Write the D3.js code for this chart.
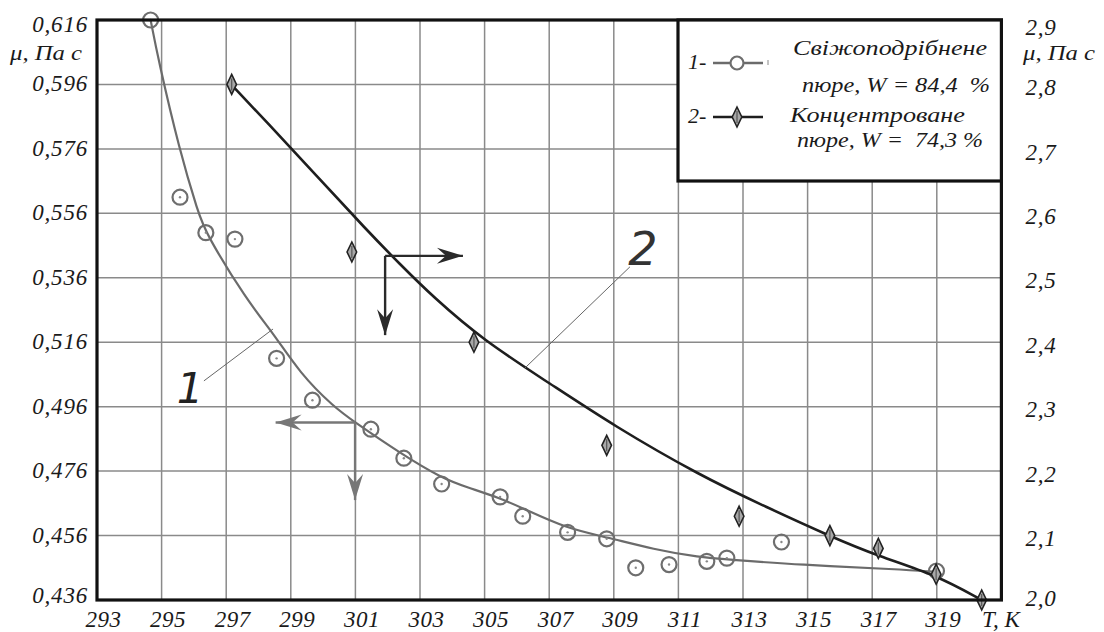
<!DOCTYPE html>
<html>
<head>
<meta charset="utf-8">
<script src="https://cdn.jsdelivr.net/npm/d3@7"></script>
<style>
  body { margin: 0; background: #fff; }
  svg { display: block; }
  text { font-family: "Liberation Serif", "Times New Roman", serif; font-style: italic; fill: #1a1a1a; }
</style>
</head>
<body>
<svg id="chart"></svg>
<script>
// measured points, curve 1 (fresh puree, left axis)
const temp1 = [294.66, 295.57, 296.37, 297.27, 298.56, 299.67, 301.48, 302.50, 303.67, 305.48, 306.18, 307.57, 308.78, 309.68, 310.71, 311.88, 312.50, 314.19, 318.99]
const mu1 = [0.616, 0.561, 0.550, 0.548, 0.511, 0.498, 0.489, 0.480, 0.472, 0.468, 0.462, 0.457, 0.455, 0.446, 0.447, 0.448, 0.449, 0.454, 0.445]

// measured points, curve 2 (concentrated puree, right axis)
const temp2 = [297.17, 300.89, 304.67, 308.78, 312.88, 315.69, 317.19, 318.98, 320.39]
const mu2 = [2.80, 2.54, 2.40, 2.24, 2.13, 2.10, 2.08, 2.04, 2.00]

// fitted curves
const fitT1 = [294.66, 294.90, 295.55, 296.14, 296.37, 297.63, 298.46, 299.28, 300.32, 300.99, 302.38, 303.67, 304.45, 305.48, 306.18, 307.54, 308.78, 310.24, 311.67, 312.50, 314.76, 317.86, 318.89]
const fitMu1 = [0.616, 0.6036, 0.5757, 0.556, 0.5498, 0.5291, 0.5188, 0.5064, 0.4960, 0.4911, 0.4816, 0.4738, 0.4710, 0.4676, 0.4645, 0.4582, 0.4555, 0.4517, 0.4492, 0.4486, 0.4469, 0.4455, 0.4448]
const fitT2 = [297.17, 298.25, 299.80, 301.35, 302.38, 303.41, 304.96, 307.02, 308.98, 311.67, 313.73, 315.69, 317.19, 318.98, 320.39]
const fitMu2 = [2.799, 2.742, 2.658, 2.574, 2.521, 2.470, 2.403, 2.336, 2.271, 2.193, 2.144, 2.099, 2.068, 2.039, 2.000]

// tick labels
const xTicks = [293, 295, 297, 299, 301, 303, 305, 307, 309, 311, 313, 315, 317, 319]
const leftTicks = [0.616, 0.596, 0.576, 0.556, 0.536, 0.516, 0.496, 0.476, 0.456, 0.436]
const rightTicks = [2.9, 2.8, 2.7, 2.6, 2.5, 2.4, 2.3, 2.2, 2.1, 2.0]

// annotation arrows (axis directions) and curve numbers
const arrow1 = { t: 300.99, mu: 0.4911, tLeft: 298.53, muDown: 0.4670 }
const arrow2 = { t: 301.92, mu: 2.534, tRight: 304.33, muDown: 2.411 }
const label1 = { t: 295.88, mu: 0.4971, t0: 296.31, mu0: 0.5040, t1: 298.45, mu1: 0.5201 }
const label2 = { t: 309.90, mu: 2.520, t0: 309.50, mu0: 2.517, t1: 306.25, mu1: 2.360 }

const width = 1104, height = 632

const svg = d3.select('#chart')
  .attr('width', width)
  .attr('height', height)

const x = d3.scaleLinear().domain([293, 321]).range([97, 1001.4])
const yL = d3.scaleLinear().domain([0.436, 0.616]).range([600, 20])
const yR = d3.scaleLinear().domain([2.0, 2.9]).range([600, 20])

const comma = (f) => (d) => d3.format(f)(d).replace('.', ',')

// grid
svg.append('g')
  .selectAll('line')
  .data(xTicks.slice(1))
  .enter().append('line')
  .attr('x1', d => x(d)).attr('x2', d => x(d))
  .attr('y1', yL(0.616)).attr('y2', yL(0.436))
  .attr('stroke', '#8a8a8a').attr('stroke-width', 1.5)

svg.append('g')
  .selectAll('line')
  .data(leftTicks.slice(1, -1))
  .enter().append('line')
  .attr('x1', x(293)).attr('x2', x(321))
  .attr('y1', d => yL(d)).attr('y2', d => yL(d))
  .attr('stroke', '#8a8a8a').attr('stroke-width', 1.5)

// axes
const gx = svg.append('g')
  .attr('transform', `translate(0,${yL(0.436)})`)
  .call(d3.axisBottom(x).tickValues(xTicks).tickSize(0).tickPadding(11).tickFormat(d3.format('d')))
gx.select('.domain').remove()
gx.selectAll('text').attr('dx', 6).style('font-size', '23px').style('letter-spacing', '0.5px')

const gl = svg.append('g')
  .attr('transform', `translate(${x(293)},0)`)
  .call(d3.axisLeft(yL).tickValues(leftTicks).tickSize(0).tickPadding(9).tickFormat(comma('.3f')))
gl.select('.domain').remove()
gl.selectAll('text')
  .style('font-size', '23px').style('letter-spacing', '0.8px')
  .attr('dy', (d, i) => i === 0 ? '0.52em' : (i === leftTicks.length - 1 ? '0.09em' : '0.28em'))

const gr = svg.append('g')
  .attr('transform', `translate(${x(321)},0)`)
  .call(d3.axisRight(yR).tickValues(rightTicks).tickSize(0).tickPadding(24).tickFormat(comma('.1f')))
gr.select('.domain').remove()
gr.selectAll('text')
  .style('font-size', '23px').style('letter-spacing', '0.8px')
  .attr('dy', (d, i) => i === 0 ? '0.65em' : (i === rightTicks.length - 1 ? '0.22em' : '0.44em'))

// axis titles
svg.append('text').attr('x', 10).attr('y', 60)
  .attr('textLength', 72).attr('lengthAdjust', 'spacingAndGlyphs')
  .style('font-size', '21px').text('μ, Па с')
svg.append('text').attr('x', 1023).attr('y', 60)
  .attr('textLength', 72).attr('lengthAdjust', 'spacingAndGlyphs')
  .style('font-size', '21px').text('μ, Па с')
svg.append('text').attr('x', 982).attr('y', 627)
  .attr('textLength', 38).attr('lengthAdjust', 'spacingAndGlyphs')
  .style('font-size', '23px').text('T, K')

// curves
const line1 = d3.line().x(d => x(d[0])).y(d => yL(d[1])).curve(d3.curveBasis)
const line2 = d3.line().x(d => x(d[0])).y(d => yR(d[1])).curve(d3.curveBasis)

svg.append('path')
  .datum(d3.zip(fitT1, fitMu1))
  .attr('d', line1)
  .attr('fill', 'none').attr('stroke', '#6b6b6b').attr('stroke-width', 2.2)

const pts1 = svg.append('g').selectAll('g')
  .data(d3.zip(temp1, mu1))
  .enter().append('g')
  .attr('transform', d => `translate(${x(d[0])},${yL(d[1])})`)
pts1.append('circle').attr('r', 7.5)
  .attr('fill', 'none').attr('stroke', '#6e6e6e').attr('stroke-width', 2.2)
pts1.append('circle').attr('r', 1.2).attr('fill', '#888')

svg.append('path')
  .datum(d3.zip(fitT2, fitMu2))
  .attr('d', line2)
  .attr('fill', 'none').attr('stroke', '#1e1e1e').attr('stroke-width', 2.6)

const diamond = 'M0,-10L4.8,0L0,10L-4.8,0Z'
const pts2 = svg.append('g').selectAll('g')
  .data(d3.zip(temp2, mu2))
  .enter().append('g')
  .attr('transform', d => `translate(${x(d[0])},${yR(d[1])})`)
pts2.append('path').attr('d', diamond)
  .attr('fill', '#a8a8a8').attr('stroke', '#222').attr('stroke-width', 1.6)
pts2.append('line').attr('y1', -6).attr('y2', 6)
  .attr('stroke', '#555').attr('stroke-width', 1.2)

// arrows
function arrowHead (tx, ty, ux, uy) {
  const L = 26; const W = 8; const N = 17
  const nx = -uy; const ny = ux
  return `M${tx},${ty}L${tx - L * ux + W * nx},${ty - L * uy + W * ny}L${tx - N * ux},${ty - N * uy}L${tx - L * ux - W * nx},${ty - L * uy - W * ny}Z`
}

function drawArrows (ox, oy, hx, vy, color) {
  const g = svg.append('g')
  g.append('line').attr('x1', ox).attr('y1', oy).attr('x2', hx).attr('y2', oy)
    .attr('stroke', color).attr('stroke-width', 2.4)
  g.append('line').attr('x1', ox).attr('y1', oy).attr('x2', ox).attr('y2', vy)
    .attr('stroke', color).attr('stroke-width', 2.4)
  g.append('path').attr('d', arrowHead(hx, oy, Math.sign(hx - ox), 0)).attr('fill', color)
  g.append('path').attr('d', arrowHead(ox, vy, 0, 1)).attr('fill', color)
}

drawArrows(x(arrow1.t), yL(arrow1.mu), x(arrow1.tLeft), yL(arrow1.muDown), '#777')
drawArrows(x(arrow2.t), yR(arrow2.mu), x(arrow2.tRight), yR(arrow2.muDown), '#2a2a2a')

// curve numbers with leader lines
svg.append('line')
  .attr('x1', x(label1.t0)).attr('y1', yL(label1.mu0))
  .attr('x2', x(label1.t1)).attr('y2', yL(label1.mu1))
  .attr('stroke', '#666').attr('stroke-width', 1)
svg.append('line')
  .attr('x1', x(label2.t0)).attr('y1', yR(label2.mu0))
  .attr('x2', x(label2.t1)).attr('y2', yR(label2.mu1))
  .attr('stroke', '#666').attr('stroke-width', 1)
svg.append('text').attr('x', x(label1.t)).attr('y', yL(label1.mu))
  .attr('text-anchor', 'middle')
  .style('font-family', '"DejaVu Sans", sans-serif').style('font-weight', 300)
  .style('font-size', '42px').style('fill', '#222').text('1')
svg.append('text').attr('x', x(label2.t)).attr('y', yR(label2.mu))
  .attr('text-anchor', 'middle')
  .style('font-family', '"DejaVu Sans", sans-serif').style('font-weight', 300)
  .style('font-size', '46px').style('fill', '#333').text('2')

// frame
svg.append('rect')
  .attr('x', x(293)).attr('y', yL(0.616))
  .attr('width', x(321) - x(293)).attr('height', yL(0.436) - yL(0.616))
  .attr('fill', 'none').attr('stroke', '#111').attr('stroke-width', 3.2)

// legend
const lg = svg.append('g')
lg.append('rect').attr('x', 678).attr('y', 20).attr('width', 323.4).attr('height', 161)
  .attr('fill', '#fff').attr('stroke', '#111').attr('stroke-width', 3.2)

lg.append('text').attr('x', 688).attr('y', 69).style('font-size', '22px').text('1-')
lg.append('line').attr('x1', 713).attr('x2', 763).attr('y1', 63).attr('y2', 63)
  .attr('stroke', '#6b6b6b').attr('stroke-width', 2.4)
lg.append('circle').attr('cx', 737).attr('cy', 63).attr('r', 6.5)
  .attr('fill', '#fff').attr('stroke', '#6e6e6e').attr('stroke-width', 2.2)
lg.append('line').attr('x1', 768).attr('x2', 768).attr('y1', 60).attr('y2', 65)
  .attr('stroke', '#888').attr('stroke-width', 1)

lg.append('text').attr('x', 688).attr('y', 123).style('font-size', '22px').text('2-')
lg.append('line').attr('x1', 713).attr('x2', 763).attr('y1', 117).attr('y2', 117)
  .attr('stroke', '#1e1e1e').attr('stroke-width', 2.6)
lg.append('g').attr('transform', 'translate(737,117)')
  .call(g => {
    g.append('path').attr('d', diamond).attr('fill', '#a8a8a8').attr('stroke', '#222').attr('stroke-width', 1.6)
    g.append('line').attr('y1', -6).attr('y2', 6).attr('stroke', '#555').attr('stroke-width', 1.2)
  })

const legendText = [
  { x: 793, y: 55, len: 194, s: 'Свіжоподрібнене' },
  { x: 802, y: 92, len: 188, s: 'пюре, W = 84,4  %' },
  { x: 790, y: 122, len: 175, s: 'Концентроване' },
  { x: 797, y: 147, len: 186, s: 'пюре, W =  74,3 %' }
]
lg.selectAll('text.item')
  .data(legendText)
  .enter().append('text')
  .attr('class', 'item')
  .attr('x', d => d.x).attr('y', d => d.y)
  .attr('textLength', d => d.len).attr('lengthAdjust', 'spacingAndGlyphs')
  .attr('xml:space', 'preserve')
  .style('white-space', 'pre')
  .style('font-size', '22px')
  .text(d => d.s)
</script>
</body>
</html>
